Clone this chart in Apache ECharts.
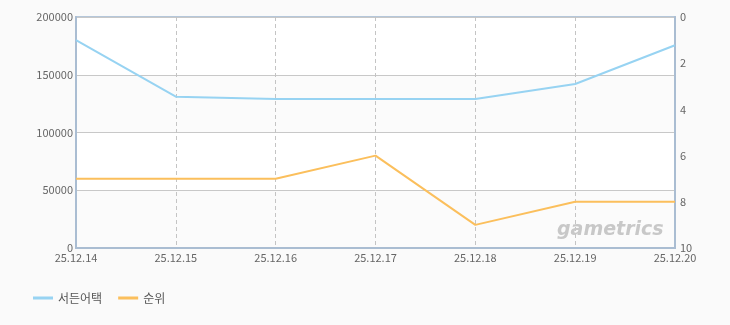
<!DOCTYPE html>
<html><head><meta charset="utf-8">
<script src="https://cdn.jsdelivr.net/npm/echarts@6/dist/echarts.min.js"></script>
<style>html,body{margin:0;padding:0;background:#fafafa}#c{width:730px;height:325px}</style>
</head><body><div id="c"></div>
<script>
const categories = ['25.12.14','25.12.15','25.12.16','25.12.17','25.12.18','25.12.19','25.12.20'];
const userValues = [180000, 131000, 129000, 129000, 129000, 142000, 175500];
const rankValues = [7, 7, 7, 6, 9, 8, 8];
const seriesNames = ['서든어택', '순위'];
const chart = echarts.init(document.getElementById('c'));
const lab = {color:'#666', fontSize:11, fontFamily:'"Noto Sans CJK KR", sans-serif'};
chart.setOption({
  backgroundColor:'#fafafa',
  animation:false,
  grid:{left:76, right:55, top:17, bottom:77, show:true, backgroundColor:'#fff', borderColor:'#b5c7da', borderWidth:2},
  legend:{left:28, bottom:16, itemWidth:20, itemHeight:3, itemGap:16,
    textStyle:{color:'#555', fontSize:12, fontFamily:'"Noto Sans CJK KR", sans-serif'},
    data:[{name:seriesNames[0], icon:'rect'},{name:seriesNames[1], icon:'rect'}]},
  xAxis:{type:'category', data:categories, boundaryGap:false,
    axisLine:{show:true, lineStyle:{color:'#aabdd2', width:2}}, axisTick:{show:false},
    axisLabel:Object.assign({margin:4, interval:0}, lab),
    splitLine:{show:true, lineStyle:{color:'#c4c4c4', type:[4,3]}}},
  yAxis:[
    {type:'value', min:0, max:200000, interval:50000,
     axisLine:{show:true, lineStyle:{color:'#aabdd2', width:2}}, axisTick:{show:false},
     axisLabel:Object.assign({margin:3, formatter:v=>String(v)}, lab),
     splitLine:{lineStyle:{color:'#c8c8c8'}},
     splitArea:{show:true, areaStyle:{color:['#fbfbfb','#ffffff']}}},
    {type:'value', min:0, max:10, interval:2, inverse:true,
     axisLine:{show:true, lineStyle:{color:'#aabdd2', width:2}}, axisTick:{show:false},
     axisLabel:Object.assign({margin:5}, lab), splitLine:{show:false}}
  ],
  graphic:{elements:[{type:'text', left:557, top:221, z:100, silent:true,
    style:{text:'gametrics', fill:'#c8c8c8', font:'italic bold 19px "DejaVu Sans", sans-serif'}}]},
  series:[
    {name:seriesNames[0], type:'line', yAxisIndex:0, data:userValues, symbol:'none',
     lineStyle:{color:'#97d3f2', width:2}, itemStyle:{color:'#97d3f2'}},
    {name:seriesNames[1], type:'line', yAxisIndex:1, data:rankValues, symbol:'none',
     lineStyle:{color:'#fbbf5c', width:2}, itemStyle:{color:'#fbbf5c'}}
  ]
});
</script></body></html>
